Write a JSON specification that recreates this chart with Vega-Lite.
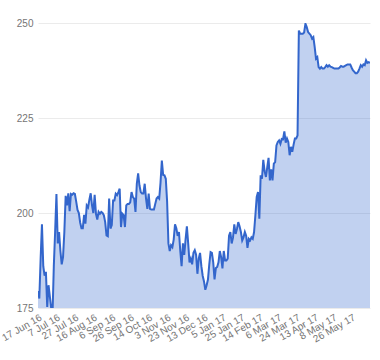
{
  "$schema": "https://vega.github.io/schema/vega-lite/v6.json",
  "width": 332,
  "height": 285,
  "autosize": "none",
  "padding": {"left": 38, "top": 23, "right": 10, "bottom": 52},
  "config": {"view": {"stroke": null}, "font": "Liberation Sans"},
  "data": {"values": [
    {"d":"17 Jun 16","v":179.5},{"d":"20 Jun 16","v":177.5},{"d":"21 Jun 16","v":188},{"d":"22 Jun 16","v":197},{"d":"23 Jun 16","v":186},{"d":"24 Jun 16","v":183.5},{"d":"27 Jun 16","v":184.5},{"d":"28 Jun 16","v":175.3},{"d":"29 Jun 16","v":181},{"d":"30 Jun 16","v":178},
    {"d":"1 Jul 16","v":175},{"d":"4 Jul 16","v":173},{"d":"5 Jul 16","v":186},{"d":"6 Jul 16","v":195},{"d":"7 Jul 16","v":205},{"d":"8 Jul 16","v":192},{"d":"11 Jul 16","v":195},{"d":"12 Jul 16","v":190},{"d":"13 Jul 16","v":186.5},{"d":"14 Jul 16","v":188.4},{"d":"15 Jul 16","v":195},{"d":"18 Jul 16","v":204.5},{"d":"19 Jul 16","v":202},{"d":"20 Jul 16","v":205.2},{"d":"21 Jul 16","v":200.5},{"d":"22 Jul 16","v":205},{"d":"25 Jul 16","v":204.8},{"d":"26 Jul 16","v":205.2},{"d":"27 Jul 16","v":205},{"d":"28 Jul 16","v":203},{"d":"29 Jul 16","v":200.8},
    {"d":"1 Aug 16","v":200},{"d":"2 Aug 16","v":197.5},{"d":"3 Aug 16","v":196},{"d":"4 Aug 16","v":196},{"d":"5 Aug 16","v":199.5},{"d":"8 Aug 16","v":197.2},{"d":"9 Aug 16","v":202},{"d":"10 Aug 16","v":201.5},{"d":"11 Aug 16","v":203.5},{"d":"12 Aug 16","v":205.2},{"d":"15 Aug 16","v":202},{"d":"16 Aug 16","v":200},{"d":"17 Aug 16","v":204.8},{"d":"18 Aug 16","v":199.8},{"d":"19 Aug 16","v":198.3},{"d":"22 Aug 16","v":200.3},{"d":"23 Aug 16","v":199.8},{"d":"24 Aug 16","v":200.3},{"d":"25 Aug 16","v":200},{"d":"26 Aug 16","v":199.4},{"d":"30 Aug 16","v":197.6},{"d":"31 Aug 16","v":194.1},
    {"d":"1 Sep 16","v":193.9},{"d":"2 Sep 16","v":203.8},{"d":"5 Sep 16","v":195.9},{"d":"6 Sep 16","v":196.8},{"d":"7 Sep 16","v":203.3},{"d":"8 Sep 16","v":203.3},{"d":"9 Sep 16","v":205.1},{"d":"12 Sep 16","v":204.7},{"d":"13 Sep 16","v":205.5},{"d":"14 Sep 16","v":206.4},{"d":"15 Sep 16","v":196.3},{"d":"16 Sep 16","v":199.8},{"d":"19 Sep 16","v":199.4},{"d":"20 Sep 16","v":196.3},{"d":"21 Sep 16","v":202},{"d":"22 Sep 16","v":202.4},{"d":"23 Sep 16","v":202.4},{"d":"26 Sep 16","v":202.8},{"d":"27 Sep 16","v":205.5},{"d":"28 Sep 16","v":204.2},{"d":"29 Sep 16","v":203.8},{"d":"30 Sep 16","v":200.3},
    {"d":"3 Oct 16","v":207.7},{"d":"4 Oct 16","v":210.4},{"d":"5 Oct 16","v":207.3},{"d":"6 Oct 16","v":205.5},{"d":"7 Oct 16","v":205.1},{"d":"10 Oct 16","v":205.1},{"d":"11 Oct 16","v":207.7},{"d":"12 Oct 16","v":203.8},{"d":"13 Oct 16","v":201.1},{"d":"14 Oct 16","v":205.1},{"d":"17 Oct 16","v":201.1},{"d":"18 Oct 16","v":200.9},{"d":"19 Oct 16","v":200.9},{"d":"20 Oct 16","v":200.9},{"d":"21 Oct 16","v":202.4},{"d":"24 Oct 16","v":203.8},{"d":"25 Oct 16","v":204.2},{"d":"26 Oct 16","v":203.8},{"d":"27 Oct 16","v":208},{"d":"28 Oct 16","v":213.8},{"d":"31 Oct 16","v":210},
    {"d":"1 Nov 16","v":209.9},{"d":"2 Nov 16","v":209},{"d":"3 Nov 16","v":203},{"d":"4 Nov 16","v":192},{"d":"7 Nov 16","v":190},{"d":"8 Nov 16","v":191.5},{"d":"9 Nov 16","v":191},{"d":"10 Nov 16","v":193},{"d":"11 Nov 16","v":197},{"d":"14 Nov 16","v":196},{"d":"15 Nov 16","v":194},{"d":"16 Nov 16","v":195},{"d":"17 Nov 16","v":190},{"d":"18 Nov 16","v":186},{"d":"21 Nov 16","v":192},{"d":"22 Nov 16","v":189},{"d":"23 Nov 16","v":193},{"d":"24 Nov 16","v":196.5},{"d":"25 Nov 16","v":192},{"d":"28 Nov 16","v":187},{"d":"29 Nov 16","v":188},{"d":"30 Nov 16","v":186.5},
    {"d":"1 Dec 16","v":189.5},{"d":"2 Dec 16","v":190.2},{"d":"5 Dec 16","v":189},{"d":"6 Dec 16","v":184},{"d":"7 Dec 16","v":188},{"d":"8 Dec 16","v":189.5},{"d":"9 Dec 16","v":186},{"d":"12 Dec 16","v":183.5},{"d":"13 Dec 16","v":182},{"d":"14 Dec 16","v":179.8},{"d":"15 Dec 16","v":181},{"d":"16 Dec 16","v":182.5},{"d":"19 Dec 16","v":186.5},{"d":"20 Dec 16","v":189.7},{"d":"21 Dec 16","v":189.5},{"d":"22 Dec 16","v":187},{"d":"23 Dec 16","v":182.5},{"d":"28 Dec 16","v":185.5},{"d":"29 Dec 16","v":185.8},{"d":"30 Dec 16","v":187},
    {"d":"3 Jan 17","v":190},{"d":"4 Jan 17","v":188.4},{"d":"5 Jan 17","v":185.4},{"d":"6 Jan 17","v":190},{"d":"9 Jan 17","v":187.5},{"d":"10 Jan 17","v":187.5},{"d":"11 Jan 17","v":188},{"d":"12 Jan 17","v":194},{"d":"13 Jan 17","v":195},{"d":"16 Jan 17","v":192},{"d":"17 Jan 17","v":193.5},{"d":"18 Jan 17","v":197},{"d":"19 Jan 17","v":194.5},{"d":"20 Jan 17","v":195.8},{"d":"23 Jan 17","v":197.6},{"d":"24 Jan 17","v":196.5},{"d":"25 Jan 17","v":195},{"d":"26 Jan 17","v":192.8},{"d":"27 Jan 17","v":193.6},{"d":"30 Jan 17","v":195},{"d":"31 Jan 17","v":194},
    {"d":"1 Feb 17","v":190.8},{"d":"2 Feb 17","v":193.2},{"d":"3 Feb 17","v":192.8},{"d":"6 Feb 17","v":193.6},{"d":"7 Feb 17","v":193.2},{"d":"8 Feb 17","v":195},{"d":"9 Feb 17","v":199.4},{"d":"10 Feb 17","v":204.2},{"d":"13 Feb 17","v":205.5},{"d":"14 Feb 17","v":198.5},{"d":"15 Feb 17","v":209.9},{"d":"16 Feb 17","v":209},{"d":"17 Feb 17","v":214},{"d":"20 Feb 17","v":211},{"d":"21 Feb 17","v":209.5},{"d":"22 Feb 17","v":212},{"d":"23 Feb 17","v":214.5},{"d":"24 Feb 17","v":208.6},{"d":"27 Feb 17","v":211.5},{"d":"28 Feb 17","v":208.6},
    {"d":"1 Mar 17","v":213},{"d":"2 Mar 17","v":213.4},{"d":"3 Mar 17","v":217.8},{"d":"6 Mar 17","v":218.7},{"d":"7 Mar 17","v":219.1},{"d":"8 Mar 17","v":218.2},{"d":"9 Mar 17","v":219.5},{"d":"10 Mar 17","v":219.4},{"d":"13 Mar 17","v":221.5},{"d":"14 Mar 17","v":218.5},{"d":"15 Mar 17","v":219.6},{"d":"16 Mar 17","v":218.7},{"d":"17 Mar 17","v":215.2},{"d":"20 Mar 17","v":217.4},{"d":"21 Mar 17","v":216.1},{"d":"22 Mar 17","v":218},{"d":"23 Mar 17","v":219.6},{"d":"24 Mar 17","v":219.6},{"d":"27 Mar 17","v":220.4},{"d":"28 Mar 17","v":248},{"d":"29 Mar 17","v":247.2},{"d":"30 Mar 17","v":247.2},{"d":"31 Mar 17","v":247.2},
    {"d":"3 Apr 17","v":247.5},{"d":"4 Apr 17","v":249.8},{"d":"5 Apr 17","v":248.9},{"d":"6 Apr 17","v":247.6},{"d":"7 Apr 17","v":247.2},{"d":"10 Apr 17","v":246.8},{"d":"11 Apr 17","v":245.9},{"d":"12 Apr 17","v":246.3},{"d":"13 Apr 17","v":243.7},{"d":"18 Apr 17","v":240.6},{"d":"19 Apr 17","v":241},{"d":"20 Apr 17","v":238.4},{"d":"21 Apr 17","v":238},{"d":"24 Apr 17","v":238.4},{"d":"25 Apr 17","v":238},{"d":"26 Apr 17","v":238},{"d":"27 Apr 17","v":238.4},{"d":"28 Apr 17","v":238.9},
    {"d":"2 May 17","v":238.5},{"d":"3 May 17","v":238.9},{"d":"4 May 17","v":238.5},{"d":"5 May 17","v":238.4},{"d":"8 May 17","v":238.2},{"d":"9 May 17","v":238},{"d":"10 May 17","v":238},{"d":"11 May 17","v":238},{"d":"12 May 17","v":238},{"d":"15 May 17","v":238.3},{"d":"16 May 17","v":238.7},{"d":"17 May 17","v":238.5},{"d":"18 May 17","v":238.5},{"d":"19 May 17","v":238.7},{"d":"22 May 17","v":238.9},{"d":"23 May 17","v":239.1},{"d":"24 May 17","v":239.1},{"d":"25 May 17","v":239.1},{"d":"26 May 17","v":238.3},{"d":"30 May 17","v":237.6},{"d":"31 May 17","v":237.2},
    {"d":"1 Jun 17","v":236.8},{"d":"2 Jun 17","v":236.8},{"d":"5 Jun 17","v":237.2},{"d":"6 Jun 17","v":238},{"d":"7 Jun 17","v":238.9},{"d":"8 Jun 17","v":238.5},{"d":"9 Jun 17","v":239.1},{"d":"12 Jun 17","v":238.9},{"d":"13 Jun 17","v":240.2},{"d":"14 Jun 17","v":239.5},{"d":"15 Jun 17","v":239.7},{"d":"16 Jun 17","v":239.5}
  ]},
  "encoding": {
    "x": {
      "field": "d", "type": "ordinal", "sort": null,
      "scale": {"type": "point", "padding": 0},
      "axis": {
        "title": null,
        "values": ["17 Jun 16","7 Jul 16","27 Jul 16","16 Aug 16","6 Sep 16","26 Sep 16","14 Oct 16","3 Nov 16","23 Nov 16","13 Dec 16","5 Jan 17","25 Jan 17","14 Feb 17","6 Mar 17","24 Mar 17","13 Apr 17","8 May 17","26 May 17"],
        "labelAngle": -30, "labelAlign": "right", "labelBaseline": "top",
        "labelFontSize": 10, "labelColor": "#757575", "labelPadding": 4,
        "domain": false, "ticks": false, "grid": false, "labelOverlap": false
      }
    },
    "y": {
      "field": "v", "type": "quantitative",
      "scale": {"domain": [175, 250], "zero": false, "nice": false},
      "axis": {
        "title": null, "values": [175, 200, 225, 250],
        "labelFontSize": 10, "labelColor": "#757575", "labelPadding": 5,
        "domain": false, "ticks": false, "grid": true, "gridColor": "#ebebeb"
      }
    }
  },
  "layer": [
    {"mark": {"type": "area", "color": "#3366cc", "opacity": 0.3, "clip": true}},
    {"mark": {"type": "line", "color": "#3366cc", "strokeWidth": 2, "clip": true}}
  ]
}
